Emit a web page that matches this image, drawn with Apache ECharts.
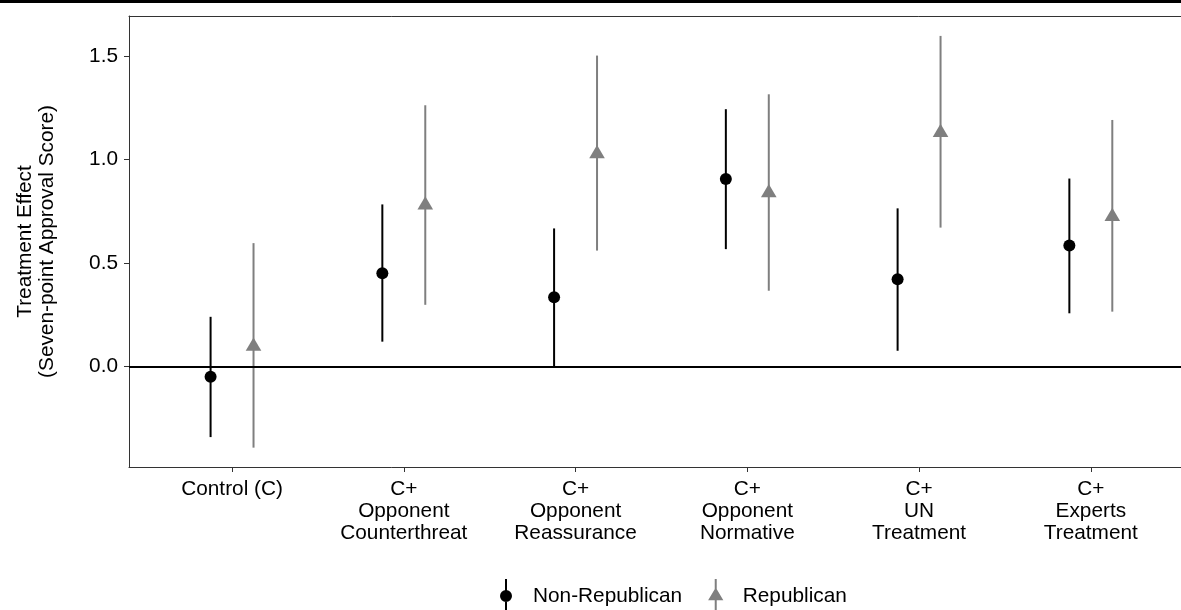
<!DOCTYPE html>
<html>
<head>
<meta charset="utf-8">
<script src="https://cdn.jsdelivr.net/npm/echarts@6/dist/echarts.min.js"></script>
<style>
html,body{margin:0;padding:0;background:#fff;}
#chart{width:1181px;height:610px;}
</style>
</head>
<body>
<div id="chart"></div>
<script>
const categories = ['Control (C)', 'C+\nOpponent\nCounterthreat', 'C+\nOpponent\nReassurance', 'C+\nOpponent\nNormative', 'C+\nUN\nTreatment', 'C+\nExperts\nTreatment'];
const nonRepEst  = [-0.049, 0.451, 0.334, 0.906, 0.421, 0.584];
const nonRepLow  = [-0.341, 0.120, 0.000, 0.567, 0.076, 0.257];
const nonRepHigh = [0.240, 0.783, 0.667, 1.243, 0.764, 0.908];
const repEst  = [0.097, 0.780, 1.027, 0.839, 1.130, 0.724];
const repLow  = [-0.392, 0.298, 0.560, 0.366, 0.671, 0.265];
const repHigh = [0.596, 1.262, 1.502, 1.315, 1.597, 1.191];
const yTicks = [0, 0.5, 1.0, 1.5];
const xTicks = [1, 2, 3, 4, 5, 6];
const seriesNames = ['Non-Republican', 'Republican'];

const FONT = 'Liberation Sans, Arial, sans-serif';
const FS = 20.8;
const XMIN = 0.4, XMAX = 6.525, YMIN = -0.4855, YMAX = 1.6932;

function rows(est, low, high) {
  return categories.map((c, i) => [i + 1, est[i], low[i], high[i]]);
}

function makeRender(offset, shape, color) {
  return function (params, api) {
    const x = api.value(0) + offset;
    const p = api.coord([x, api.value(1)]);
    const lo = api.coord([x, api.value(2)]);
    const hi = api.coord([x, api.value(3)]);
    const children = [{
      type: 'line',
      shape: { x1: p[0], y1: lo[1], x2: p[0], y2: hi[1] },
      style: { stroke: color, lineWidth: 2 }
    }];
    if (shape === 'circle') {
      children.push({ type: 'circle', shape: { cx: p[0], cy: p[1], r: 6 }, style: { fill: color } });
    } else {
      children.push({
        type: 'polygon',
        shape: { points: [[p[0], p[1] - 8.8], [p[0] + 7.8, p[1] + 4.4], [p[0] - 7.8, p[1] + 4.4]] },
        style: { fill: color }
      });
    }
    return { type: 'group', children: children };
  };
}

const circleIcon = 'path://M9,0H11V34H9Z M4,17A6,6 0 1,1 16,17A6,6 0 1,1 4,17Z';
const triIcon = 'path://M9,0H11V34H9Z M10,8.4L17.6,21.3L2.4,21.3Z';

const borderStyle = { color: '#333333', width: 1 };

const chart = echarts.init(document.getElementById('chart'), null, { renderer: 'canvas' });
chart.setOption({
  animation: false,
  backgroundColor: '#ffffff',
  textStyle: { fontFamily: FONT },
  graphic: [{
    type: 'rect', left: 0, top: 0, shape: { width: 1181, height: 3 }, style: { fill: '#000' }, z: 100
  }],
  grid: { left: 129, top: 16, right: 0, bottom: 143, show: false },
  legend: {
    left: 495, top: 574,
    itemWidth: 20, itemHeight: 34, itemGap: 26,
    data: [{ name: seriesNames[0], icon: circleIcon }, { name: seriesNames[1], icon: triIcon }],
    textStyle: { fontFamily: FONT, fontSize: FS, color: '#000', padding: [0, 0, 0, 12] },
    selectedMode: false
  },
  xAxis: [{
    type: 'value', min: XMIN, max: XMAX, position: 'bottom',
    axisLine: { show: true, onZero: false, lineStyle: borderStyle },
    splitLine: { show: false },
    axisTick: { show: true, customValues: xTicks, length: 5, lineStyle: borderStyle },
    axisLabel: {
      customValues: xTicks,
      formatter: v => categories[Math.round(v) - 1],
      fontFamily: FONT, fontSize: FS, color: '#000', lineHeight: 22, margin: 11
    }
  }, {
    type: 'value', min: XMIN, max: XMAX, position: 'top',
    axisLine: { show: true, onZero: false, lineStyle: borderStyle },
    splitLine: { show: false }, axisTick: { show: false }, axisLabel: { show: false }
  }],
  yAxis: {
    type: 'value', min: YMIN, max: YMAX,
    name: 'Treatment Effect\n(Seven-point Approval Score)',
    nameLocation: 'middle', nameRotate: 90, nameGap: 71,
    nameTextStyle: { fontFamily: FONT, fontSize: FS, color: '#000', lineHeight: 22, align: 'center' },
    axisLine: { show: true, onZero: false, lineStyle: borderStyle },
    splitLine: { show: false },
    axisTick: { show: true, customValues: yTicks, length: 5, lineStyle: borderStyle },
    axisLabel: {
      customValues: yTicks,
      formatter: v => v.toFixed(1),
      fontFamily: FONT, fontSize: FS, color: '#000', margin: 11
    }
  },
  series: [
    {
      name: seriesNames[0], type: 'custom',
      itemStyle: { color: '#000000' },
      renderItem: makeRender(-0.125, 'circle', '#000000'),
      encode: { x: 0, y: [1, 2, 3] },
      data: rows(nonRepEst, nonRepLow, nonRepHigh),
      z: 3,
      markLine: {
        silent: true, symbol: 'none', label: { show: false },
        lineStyle: { color: '#000', width: 1.8, type: 'solid' },
        data: [{ yAxis: 0 }]
      }
    },
    {
      name: seriesNames[1], type: 'custom',
      itemStyle: { color: '#7f7f7f' },
      renderItem: makeRender(0.125, 'triangle', '#7f7f7f'),
      encode: { x: 0, y: [1, 2, 3] },
      data: rows(repEst, repLow, repHigh),
      z: 3
    }
  ]
});
</script>
</body>
</html>
